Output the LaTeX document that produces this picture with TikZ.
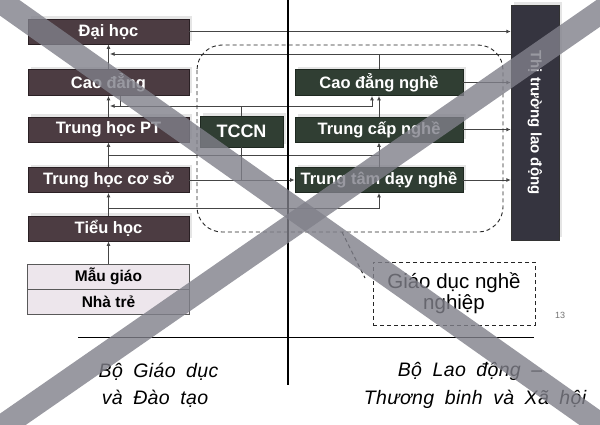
\documentclass[tikz,border=0pt]{standalone}
\usepackage{fontspec}
\setmainfont{Liberation Sans}
\newfontfamily\botfont[WordSpace=1.8,LetterSpace=2]{Liberation Sans}
\usetikzlibrary{arrows.meta,shadows}
\definecolor{leftfill}{HTML}{4C3C42}
\definecolor{leftdraw}{HTML}{2A2024}
\definecolor{rightfill}{HTML}{303E33}
\definecolor{rightdraw}{HTML}{1E2820}
\definecolor{ttfill}{HTML}{35343F}
\definecolor{lightfill}{HTML}{EDE6EC}
\definecolor{bandc}{HTML}{80808A}
\definecolor{connc}{HTML}{454545}
\tikzset{
  boxshadow/.style={general shadow={fill=black!10, shadow xshift=3pt, shadow yshift=3pt}},
  edubox/.style={draw=leftdraw, fill=leftfill, text=white, line width=0.8pt,
    font=\fontsize{16.5}{18}\selectfont\bfseries, minimum width=161pt,
    minimum height=25pt, inner sep=0pt, boxshadow},
  vocbox/.style={edubox, draw=rightdraw, fill=rightfill, minimum width=168pt},
  prebox/.style={draw=black!65, fill=lightfill, text=black, line width=0.8pt,
    font=\fontsize{15.5}{17}\selectfont\bfseries, minimum width=162pt,
    minimum height=25pt, inner sep=0pt},
  conn/.style={draw=connc, line width=0.9pt},
  arr/.style={conn, -{Latex[length=4.5pt,width=4pt]}},
  dashline/.style={draw=black!85, line width=0.9pt, dash pattern=on 4pt off 3pt},
  band/.style={draw=bandc, line width=24pt, draw opacity=0.8},
  bottxt/.style={font=\botfont\itshape\fontsize{19.5}{21}\selectfont, inner sep=0pt}
}
\begin{document}
\begin{tikzpicture}[x=1pt,y=-1pt]
\useasboundingbox (0,0) rectangle (600,424);
\clip (0,0) rectangle (600,424);
\fill[white] (0,0) rectangle (600,424);

% left column
\node[edubox] (dh) at (108.5,31.5) {Đại học};
\node[edubox, minimum height=26pt] (cd) at (108.5,82.5) {Cao đẳng};
\node[edubox] (pt) at (108.5,129.5) {Trung học PT};
\node[edubox] (cs) at (108.5,180) {Trung học cơ sở};
\node[edubox] (th) at (108.5,228.5) {Tiểu học};
\node[prebox] (mg) at (108.5,276.5) {Mẫu giáo};
\node[prebox] (nt) at (108.5,301.5) {Nhà trẻ};

% right column
\node[vocbox, minimum height=26pt] (cdn) at (379,82.5) {Cao đẳng nghề};
\node[vocbox] (tcn) at (379,129.5) {Trung cấp nghề};
\node[vocbox] (ttn) at (379,180) {Trung tâm dạy nghề};
\node[vocbox, minimum width=83pt, minimum height=31pt, font=\fontsize{18}{20}\selectfont\bfseries] (tccn) at (241.5,131.5) {TCCN};

% labour market
\node[draw=black!80, fill=ttfill, minimum width=48pt, minimum height=235pt, inner sep=0pt, boxshadow] (tt) at (535,122.5) {};
\node[rotate=-90, text=white, font=\fontsize{15}{17}\selectfont\bfseries, inner sep=0pt] (ttlabel) at (tt.center) {Thị trường lao động};

% vertical arrows left
\draw[arr] (cd.north) -- (dh.south);
\draw[arr] (pt.north) -- (cd.south);
\draw[arr] (cs.north) -- (pt.south);
\draw[arr] (th.north) -- (cs.south);
\draw[arr] (mg.north) -- (th.south);

% vertical arrows right
\draw[arr] (tcn.north) -- (cdn.south);
\draw[arr] (ttn.north) -- (tcn.south);

% to labour market
\draw[arr] (dh.east) -- (dh.east -| tt.west);
\draw[arr] (cdn.east) -- (cdn.east -| tt.west);
\draw[arr] (tcn.east) -- (tcn.east -| tt.west);
\draw[arr] (ttn.east) -- (ttn.east -| tt.west);

% line at y=54
\coordinate (k54) at (110,54);
\draw[arr] (k54 -| tt.west) -- (k54);
\draw[conn] (cdn.north) -- (cdn.north |- k54);

% line at y=106
\coordinate (k106) at (110,106);
\coordinate (c372) at (372,106);
\coordinate (c120) at (120,106);
\draw[arr] (tccn.north) |- (k106);
\draw[arr] (tccn.north |- k106) -- (c372) -- (c372 |- cdn.south);
\draw[conn] (c120) -- (c120 |- cd.south);

% line at y=155
\coordinate (k155) at (108.5,155);
\draw[conn] (k155) -- (k155 -| tcn.south);

% line at y=180
\draw[arr] (cs.east) -- (ttn.west);
\draw[conn] (tccn.south) -- (tccn.south |- cs.east);

% line at y=208
\coordinate (k208) at (108.5,208);
\draw[arr] (k208) -| (ttn.south);

% dashed group
\draw[dashline, rounded corners=25pt] (197,45) rectangle (503,232);
\node[dashline, draw, minimum width=162pt, minimum height=63pt, align=center,
  font=\fontsize{20.5}{21}\selectfont, inner sep=0pt] (gd) at (454,293.5) {Giáo dục nghề\\nghiệp};
\coordinate (ds) at (342,232);
\coordinate (de) at (365,278);
\draw[dashline] (ds) .. controls (352,252) .. (de);

\node[text=black!55, font=\fontsize{9}{10}\selectfont] (pg) at (560,315) {13};

% axes
\draw[line width=2.6pt] (288,0) -- (288,385);
\draw[line width=1pt] (78,337) -- (534,337);

% ministries
\node[bottxt] (m1a) at (158.5,372) {Bộ Giáo dục};
\node[bottxt] (m1b) at (155,399) {và Đào tạo};
\node[bottxt] (m2a) at (470,371) {Bộ Lao động –};
\node[bottxt] (m2b) at (475,399) {Thương binh và Xã hội};

% cross-out bands
\draw[band] (-30,-20.2) -- (630,446);
\draw[band] (-30,449) -- (630,-8.6);
\end{tikzpicture}
\end{document}
